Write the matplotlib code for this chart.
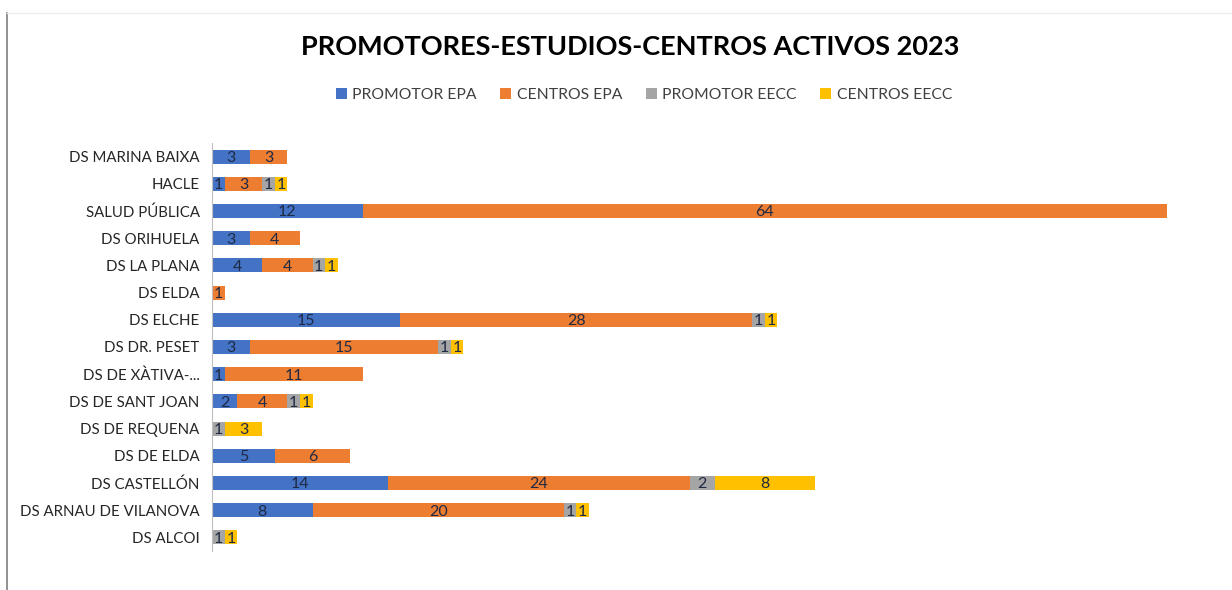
import matplotlib.pyplot as plt
from matplotlib.lines import Line2D

plt.rcParams['font.family'] = ['Lato', 'DejaVu Sans']

# categories from top to bottom
categories = ["DS MARINA BAIXA", "HACLE", "SALUD PÚBLICA", "DS ORIHUELA", "DS LA PLANA",
              "DS ELDA", "DS ELCHE", "DS DR. PESET", "DS DE XÀTIVA-...", "DS DE SANT JOAN",
              "DS DE REQUENA", "DS DE ELDA", "DS CASTELLÓN", "DS ARNAU DE VILANOVA", "DS ALCOI"]
promotor_epa = [3, 1, 12, 3, 4, 0, 15, 3, 1, 2, 0, 5, 14, 8, 0]
centros_epa = [3, 3, 64, 4, 4, 1, 28, 15, 11, 4, 0, 6, 24, 20, 0]
promotor_eecc = [0, 1, 0, 0, 1, 0, 1, 1, 0, 1, 1, 0, 2, 1, 1]
centros_eecc = [0, 1, 0, 0, 1, 0, 1, 1, 0, 1, 3, 0, 8, 1, 1]

series = [("PROMOTOR EPA", promotor_epa, "#4472C4"),
          ("CENTROS EPA", centros_epa, "#ED7D31"),
          ("PROMOTOR EECC", promotor_eecc, "#A5A5A5"),
          ("CENTROS EECC", centros_eecc, "#FFC000")]

fig = plt.figure(figsize=(12.32, 5.9), dpi=100)
ax = fig.add_axes([212 / 1232, 1 - 551 / 590, (1167 - 212) / 1232, (551 - 143) / 590])

ypos = list(range(len(categories)))[::-1]
left = [0] * len(categories)
for name, vals, color in series:
    bars = ax.barh(ypos, vals, left=left, height=0.52, color=color, label=name)
    for b, v in zip(bars, vals):
        if v > 0:
            ax.text(b.get_x() + b.get_width() / 2, b.get_y() + b.get_height() / 2 - 0.05, str(v),
                    ha='center', va='center', fontsize=11.5, color='#1F2A44')
    left = [l + v for l, v in zip(left, vals)]

ax.set_xlim(0, 76)
ax.set_ylim(-0.5, len(categories) - 0.5)
ax.set_yticks(ypos)
ax.set_yticklabels(categories, fontsize=10.8, color='#262626')
ax.tick_params(axis='y', length=0, pad=9)
ax.set_xticks([])
for s in ['top', 'right', 'bottom']:
    ax.spines[s].set_visible(False)
ax.spines['left'].set_color('#BFBFBF')

fig.text(630 / 1232, 1 - 47 / 590, "PROMOTORES-ESTUDIOS-CENTROS ACTIVOS 2023",
         ha='center', va='center', fontsize=19.5, fontweight='bold', color='#000000')

fig.legend(loc='center', bbox_to_anchor=(644 / 1232, 1 - 95 / 590), ncol=4, frameon=False,
           fontsize=11.3, handlelength=0.7, handleheight=0.7, handletextpad=0.35, columnspacing=1.5,
           labelcolor='#404040')

# chart frame remnants
fig.add_artist(Line2D([7 / 1232, 7 / 1232], [0, 1 - 13 / 590], color='#7F7F7F', lw=1.2))
fig.add_artist(Line2D([7 / 1232, 1], [1 - 13 / 590, 1 - 13 / 590], color='#EEEEEE', lw=1))

fig.savefig("out.png", dpi=100)
